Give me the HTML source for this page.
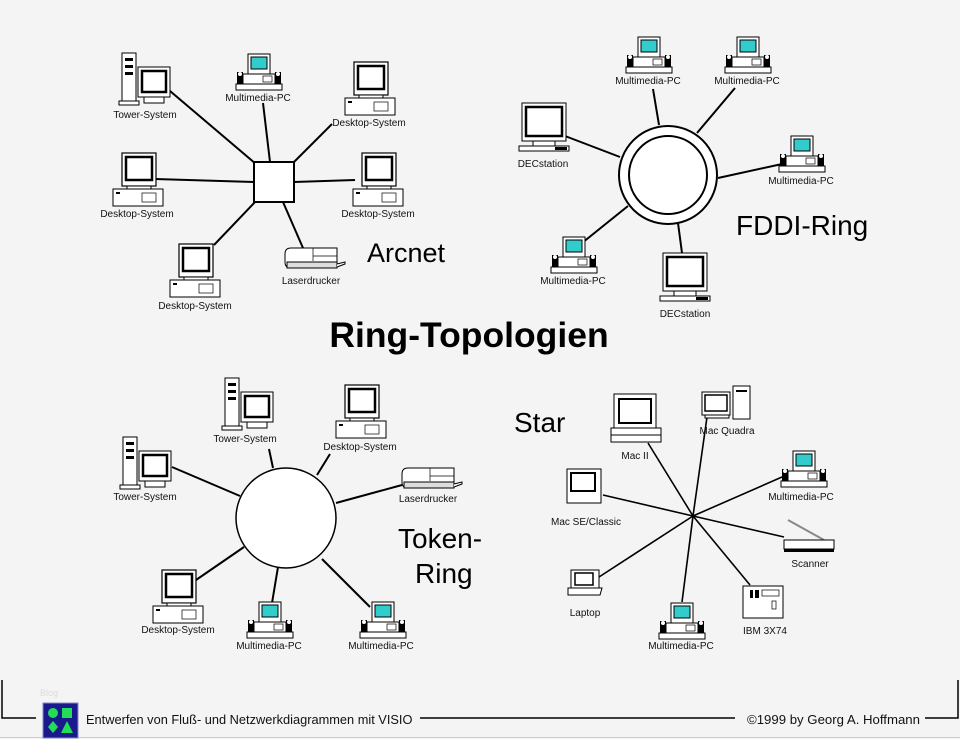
<!DOCTYPE html>
<html><head><meta charset="utf-8"><style>
html,body{margin:0;padding:0;background:#f4f4f4;}
svg{display:block;font-family:"Liberation Sans",Arial,sans-serif;}
.l{font-size:10px;fill:#111;text-anchor:middle;}
.c{stroke:#000;stroke-width:2;fill:none;}
</style></head><body>
<svg width="960" height="739" viewBox="0 0 960 739" xmlns="http://www.w3.org/2000/svg">
<defs>
<g id="desk">
 <rect x="9" y="0" width="34" height="33" fill="#fff" stroke="#000" stroke-width="1.2"/>
 <rect x="13" y="4" width="26" height="23" fill="#fff" stroke="#000" stroke-width="2.5"/>
 <rect x="14" y="33" width="24" height="3" fill="#fff" stroke="#000"/>
 <rect x="0" y="36" width="50" height="17" fill="#fff" stroke="#000"/>
 <rect x="29" y="40" width="14" height="9" fill="none" stroke="#000" stroke-width=".7"/>
 <rect x="3" y="39" width="4" height="2" fill="#000"/>
</g>
<g id="mm">
 <rect x="13" y="0" width="22" height="20" fill="#fff" stroke="#000"/>
 <rect x="16" y="3" width="16" height="12" fill="#33cccc" stroke="#000"/>
 <rect x="2" y="18" width="6" height="12" fill="#000"/>
 <rect x="40" y="18" width="6" height="12" fill="#000"/>
 <circle cx="5" cy="20" r="2" fill="#fff"/><circle cx="43" cy="20" r="2" fill="#fff"/>
 <rect x="8" y="20" width="32" height="10" fill="#fff" stroke="#000"/>
 <rect x="28" y="22" width="9" height="6" fill="none" stroke="#000" stroke-width=".7"/>
 <rect x="1" y="30" width="46" height="6" fill="#fff" stroke="#000"/>
</g>
<g id="tower">
 <rect x="0" y="0" width="14" height="50" fill="#fff" stroke="#000"/>
 <rect x="3" y="5" width="8" height="3" fill="#000"/><rect x="3" y="12" width="8" height="3" fill="#000"/>
 <rect x="3" y="19" width="8" height="3" fill="#000"/>
 <rect x="-3" y="48" width="20" height="4" fill="#fff" stroke="#000"/>
 <rect x="16" y="14" width="32" height="30" fill="#fff" stroke="#000"/>
 <rect x="20" y="18" width="24" height="21" fill="#fff" stroke="#000" stroke-width="2.5"/>
 <rect x="22" y="44" width="20" height="6" fill="#fff" stroke="#000"/>
</g>
<g id="dec">
 <rect x="3" y="0" width="44" height="38" fill="#fff" stroke="#000"/>
 <rect x="7" y="4" width="36" height="29" fill="#fff" stroke="#000" stroke-width="2.5"/>
 <rect x="14" y="38" width="22" height="5" fill="#fff" stroke="#000"/>
 <rect x="0" y="43" width="50" height="5" fill="#fff" stroke="#000"/>
 <rect x="36" y="44" width="12" height="3" fill="#000"/>
</g>
<g id="laser">
 <path d="M6 0 H52 V20 H6 Q0 20 0 14 V6 Q0 0 6 0 Z" fill="#fff" stroke="#000"/>
 <line x1="28" y1="0" x2="28" y2="13" stroke="#000" stroke-width=".7"/>
 <line x1="28" y1="8" x2="52" y2="8" stroke="#000" stroke-width=".7"/>
 <rect x="2" y="14" width="50" height="6" fill="#ddd" stroke="#000"/>
 <path d="M52 16 L60 14 L60 16 L52 19" fill="#fff" stroke="#000"/>
</g>
</defs>

<!-- frame -->
<path d="M2 680 V718 H36 M420 718 H735 M925 718 H958 V680" stroke="#000" stroke-width="1.5" fill="none"/>
<line x1="0" y1="737.5" x2="960" y2="737.5" stroke="#ccc"/>
<text x="40" y="696" font-size="9" fill="#ddd">Blog</text>
<rect x="43" y="703" width="35" height="35" fill="#1a1a8c" stroke="#8888cc"/>
<circle cx="53" cy="713" r="5" fill="#22dd55"/><rect x="62" y="708" width="10" height="10" fill="#22dd55"/>
<path d="M53 721 L58 727 L53 733 L48 727 Z" fill="#22dd55"/><path d="M67 721 L73 733 L61 733 Z" fill="#22dd55"/>
<text x="86" y="724" font-size="12.8" fill="#111">Entwerfen von Fluß- und Netzwerkdiagrammen mit VISIO</text>
<text x="747" y="724" font-size="13.2" fill="#111">©1999 by Georg A. Hoffmann</text>

<!-- title -->
<text x="469" y="347" font-size="35.5" font-weight="bold" text-anchor="middle" fill="#000">Ring-Topologien</text>

<!-- ARCNET -->
<g class="c">
 <line x1="170" y1="91" x2="256" y2="164"/>
 <line x1="263" y1="103" x2="270" y2="162"/>
 <line x1="332" y1="124" x2="293" y2="163"/>
 <line x1="155" y1="179" x2="254" y2="182"/>
 <line x1="294" y1="182" x2="355" y2="180"/>
 <line x1="214" y1="245" x2="256" y2="201"/>
 <line x1="283" y1="202" x2="303" y2="248"/>
</g>
<rect x="254" y="162" width="40" height="40" fill="#fff" stroke="#000" stroke-width="2"/>
<use href="#tower" x="122" y="53"/><text class="l" x="145" y="118">Tower-System</text>
<use href="#mm" x="235" y="54"/><text class="l" x="258" y="101">Multimedia-PC</text>
<use href="#desk" x="345" y="62"/><text class="l" x="369" y="126">Desktop-System</text>
<use href="#desk" x="113" y="153"/><text class="l" x="137" y="217">Desktop-System</text>
<use href="#desk" x="353" y="153"/><text class="l" x="378" y="217">Desktop-System</text>
<use href="#desk" x="170" y="244"/><text class="l" x="195" y="309">Desktop-System</text>
<use href="#laser" x="285" y="248"/><text class="l" x="311" y="284">Laserdrucker</text>
<text x="367" y="262" font-size="27" fill="#000">Arcnet</text>

<!-- FDDI -->
<g class="c">
 <line x1="653" y1="89" x2="659" y2="125"/>
 <line x1="735" y1="88" x2="697" y2="133"/>
 <line x1="565" y1="136" x2="620" y2="157"/>
 <line x1="718" y1="178" x2="782" y2="164"/>
 <line x1="582" y1="243" x2="628" y2="206"/>
 <line x1="678" y1="223" x2="682" y2="253"/>
</g>
<circle cx="668" cy="175" r="49" fill="#fff" stroke="#000" stroke-width="2"/>
<circle cx="668" cy="175" r="39" fill="#fff" stroke="#000" stroke-width="2"/>
<use href="#mm" x="625" y="37"/><text class="l" x="648" y="84">Multimedia-PC</text>
<use href="#mm" x="724" y="37"/><text class="l" x="747" y="84">Multimedia-PC</text>
<use href="#dec" x="519" y="103"/><text class="l" x="543" y="167">DECstation</text>
<use href="#mm" x="778" y="136"/><text class="l" x="801" y="184">Multimedia-PC</text>
<use href="#mm" x="550" y="237"/><text class="l" x="573" y="284">Multimedia-PC</text>
<use href="#dec" x="660" y="253"/><text class="l" x="685" y="317">DECstation</text>
<text x="736" y="235" font-size="28" fill="#000">FDDI-Ring</text>

<!-- TOKEN RING -->
<g class="c">
 <line x1="269" y1="449" x2="273" y2="468"/>
 <line x1="330" y1="454" x2="317" y2="475"/>
 <line x1="172" y1="467" x2="240" y2="496"/>
 <line x1="402" y1="485" x2="336" y2="503"/>
 <line x1="196" y1="580" x2="244" y2="547"/>
 <line x1="272" y1="603" x2="278" y2="567"/>
 <line x1="370" y1="607" x2="322" y2="559"/>
</g>
<circle cx="286" cy="518" r="50" fill="#fff" stroke="#000" stroke-width="1.5"/>
<use href="#tower" x="225" y="378"/><text class="l" x="245" y="442">Tower-System</text>
<use href="#desk" x="336" y="385"/><text class="l" x="360" y="450">Desktop-System</text>
<use href="#tower" x="123" y="437"/><text class="l" x="145" y="500">Tower-System</text>
<use href="#laser" x="402" y="468"/><text class="l" x="428" y="502">Laserdrucker</text>
<use href="#desk" x="153" y="570"/><text class="l" x="178" y="633">Desktop-System</text>
<use href="#mm" x="246" y="602"/><text class="l" x="269" y="649">Multimedia-PC</text>
<use href="#mm" x="359" y="602"/><text class="l" x="381" y="649">Multimedia-PC</text>
<text x="398" y="548" font-size="28" fill="#000">Token-</text>
<text x="415" y="583" font-size="28" fill="#000">Ring</text>

<!-- STAR -->
<g class="c" style="stroke-width:1.6">
 <line x1="693" y1="516" x2="648" y2="443"/>
 <line x1="693" y1="516" x2="707" y2="417"/>
 <line x1="693" y1="516" x2="782" y2="477"/>
 <line x1="693" y1="516" x2="603" y2="495"/>
 <line x1="693" y1="516" x2="784" y2="537"/>
 <line x1="693" y1="516" x2="750" y2="585"/>
 <line x1="693" y1="516" x2="682" y2="602"/>
 <line x1="693" y1="516" x2="599" y2="577"/>
</g>
<rect x="614" y="394" width="42" height="34" fill="#fff" stroke="#000"/>
<rect x="619" y="399" width="32" height="24" fill="#fff" stroke="#000" stroke-width="2"/>
<rect x="611" y="428" width="50" height="7" fill="#fff" stroke="#000"/>
<rect x="611" y="435" width="50" height="7" fill="#fff" stroke="#000"/>
<text class="l" x="635" y="459">Mac II</text>
<rect x="702" y="392" width="28" height="23" fill="#fff" stroke="#000"/>
<rect x="705" y="395" width="22" height="16" fill="#fff" stroke="#000" stroke-width="1.5"/>
<rect x="733" y="386" width="17" height="33" fill="#fff" stroke="#000"/>
<line x1="736" y1="391" x2="747" y2="391" stroke="#000" stroke-width="2"/>
<rect x="705" y="415" width="24" height="3" fill="#fff" stroke="#000"/>
<text class="l" x="727" y="434">Mac Quadra</text>
<use href="#mm" x="780" y="451"/><text class="l" x="801" y="500">Multimedia-PC</text>
<rect x="567" y="469" width="34" height="34" fill="#fff" stroke="#000"/>
<rect x="571" y="473" width="24" height="18" fill="#fff" stroke="#000" stroke-width="2"/>
<text class="l" x="586" y="525">Mac SE/Classic</text>
<line x1="788" y1="520" x2="824" y2="540" stroke="#888" stroke-width="2"/>
<rect x="784" y="540" width="50" height="9" fill="#fff" stroke="#000"/>
<rect x="784" y="549" width="50" height="3" fill="#000"/>
<text class="l" x="810" y="567">Scanner</text>
<rect x="571" y="570" width="28" height="18" fill="#fff" stroke="#000"/>
<rect x="575" y="573" width="18" height="12" fill="#fff" stroke="#000" stroke-width="1.5"/>
<path d="M568 588 H602 L600 595 H568 Z" fill="#fff" stroke="#000"/>
<text class="l" x="585" y="616">Laptop</text>
<use href="#mm" x="658" y="603"/><text class="l" x="681" y="649">Multimedia-PC</text>
<rect x="743" y="586" width="40" height="32" fill="#fff" stroke="#000"/>
<rect x="750" y="590" width="3" height="8" fill="#000"/><rect x="755" y="590" width="4" height="8" fill="#000"/>
<rect x="762" y="590" width="17" height="6" fill="none" stroke="#000" stroke-width=".7"/>
<rect x="772" y="601" width="4" height="8" fill="none" stroke="#000" stroke-width=".7"/>
<text class="l" x="765" y="634">IBM 3X74</text>
<text x="514" y="432" font-size="28" fill="#000">Star</text>
</svg>
</body></html>
